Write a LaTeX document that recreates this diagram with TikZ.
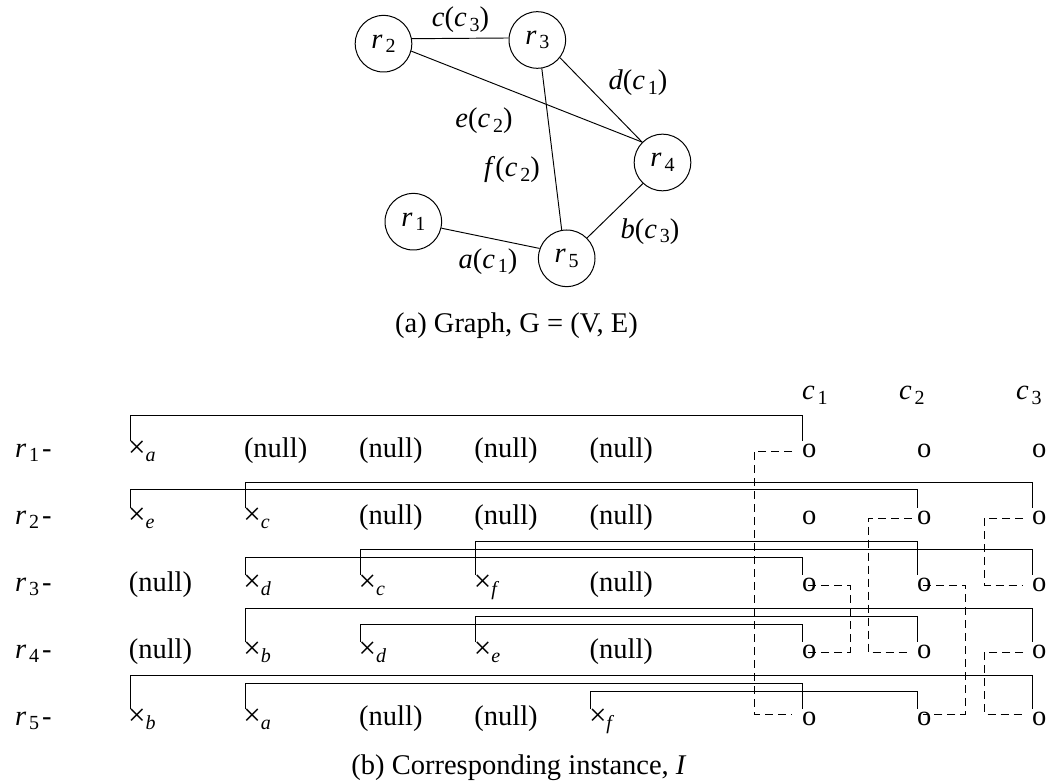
\documentclass[tikz,border=0pt]{standalone}
\usepackage{fontspec}
\setmainfont{Liberation Serif}[ItalicFont={Liberation Serif Italic}]
\newcommand{\sbn}[1]{\hspace{0.1em}\raisebox{-0.16em}{\fontsize{20}{20}\selectfont #1}}
\newcommand{\sbi}[1]{\raisebox{-0.17em}{\fontsize{20}{20}\selectfont\itshape #1}}
\newcommand{\xx}[1]{{\fontsize{31}{34}\selectfont ×}\sbi{#1}}
\newcommand{\conn}[3]{\draw[link] ([xshift=2pt,yshift=16pt]#1.base west) -- ++(0,-#3) -| ([yshift=16pt]#2.base west);}
\begin{document}
\begin{tikzpicture}[x=1pt,y=-1pt,
  every node/.style={font=\fontsize{28.5}{34}\selectfont, inner sep=0pt},
  txt/.style={anchor=base west},
  lbl/.style={anchor=base},
  vtx/.style={circle, draw, line width=1pt, minimum size=56.6pt},
  link/.style={line width=0.95pt},
  dlink/.style={line width=0.95pt, dash pattern=on 8pt off 5pt}]
\useasboundingbox (0,0) rectangle (1055,783);

% ---------- (a) graph ----------
\node[vtx] (g1) at (413.3,221.7) {\textit{r}\sbn{1}};
\node[vtx] (g2) at (383.5,43.7) {\textit{r}\sbn{2}};
\node[vtx] (g3) at (537.3,40) {\textit{r}\sbn{3}};
\node[vtx] (g4) at (662.5,162.5) {\textit{r}\sbn{4}};
\node[vtx] (g5) at (566.7,258.3) {\textit{r}\sbn{5}};

\draw[link] (g2.10) -- (g3.176);
\draw[link] (g2.-15) -- (g4.135);
\draw[link] (g3.-38) -- (g4.135);
\draw[link] (g3.-81) -- (g5.100);
\draw[link] (g4.227) -- (g5.45);
\draw[link] (g1.-13) -- (g5.160);

\node[lbl] (ec) at (460.5,26.7) {\textit{c}(\textit{c}\sbn{3})};
\node[lbl] (ed) at (638,90) {\textit{d}(\textit{c}\sbn{1})};
\node[lbl] (ee) at (484,127.7) {\textit{e}(\textit{c}\sbn{2})};
\node[lbl] (ef) at (512,176.7) {\textit{f}(\textit{c}\sbn{2})};
\node[lbl] (eb) at (650,238.3) {\textit{b}(\textit{c}\sbn{3})};
\node[lbl] (ea) at (488,268.3) {\textit{a}(\textit{c}\sbn{1})};

\node[lbl] (capA) at (516.5,333) {(a) Graph, G = (V, E)};

% ---------- (b) instance ----------
\node[txt] (h1) at (802,400) {\textit{c}\sbn{1}};
\node[txt] (h2) at (899,400) {\textit{c}\sbn{2}};
\node[txt] (h3) at (1016,400) {\textit{c}\sbn{3}};

% row labels
\node[txt] (L1) at (15,457) {\textit{r}\sbn{1}\hspace{3pt}-};
\node[txt] (L2) at (15,524) {\textit{r}\sbn{2}\hspace{3pt}-};
\node[txt] (L3) at (15,591) {\textit{r}\sbn{3}\hspace{3pt}-};
\node[txt] (L4) at (15,658) {\textit{r}\sbn{4}\hspace{3pt}-};
\node[txt] (L5) at (15,725) {\textit{r}\sbn{5}\hspace{3pt}-};

% row 1
\node[txt] (x1a) at (128,457) {\xx{a}};
\node[txt] (n12) at (243.8,457) {(null)};
\node[txt] (n13) at (359,457) {(null)};
\node[txt] (n14) at (474.2,457) {(null)};
\node[txt] (n15) at (589.4,457) {(null)};
% row 2
\node[txt] (x2e) at (128,524) {\xx{e}};
\node[txt] (x2c) at (243.2,524) {\xx{c}};
\node[txt] (n23) at (359,524) {(null)};
\node[txt] (n24) at (474.2,524) {(null)};
\node[txt] (n25) at (589.4,524) {(null)};
% row 3
\node[txt] (n31) at (128.6,591) {(null)};
\node[txt] (x3d) at (243.2,591) {\xx{d}};
\node[txt] (x3c) at (358.4,591) {\xx{c}};
\node[txt] (x3f) at (473.6,591) {\xx{f}};
\node[txt] (n35) at (589.4,591) {(null)};
% row 4
\node[txt] (n41) at (128.6,658) {(null)};
\node[txt] (x4b) at (243.2,658) {\xx{b}};
\node[txt] (x4d) at (358.4,658) {\xx{d}};
\node[txt] (x4e) at (473.6,658) {\xx{e}};
\node[txt] (n45) at (589.4,658) {(null)};
% row 5
\node[txt] (x5b) at (128,725) {\xx{b}};
\node[txt] (x5a) at (243.2,725) {\xx{a}};
\node[txt] (n53) at (359,725) {(null)};
\node[txt] (n54) at (474.2,725) {(null)};
\node[txt] (x5f) at (588.8,725) {\xx{f}};

% o columns
\node[txt] (o11) at (802,457) {o};
\node[txt] (o12) at (917,457) {o};
\node[txt] (o13) at (1032,457) {o};
\node[txt] (o21) at (802,524) {o};
\node[txt] (o22) at (917,524) {o};
\node[txt] (o23) at (1032,524) {o};
\node[txt] (o31) at (802,591) {o};
\node[txt] (o32) at (917,591) {o};
\node[txt] (o33) at (1032,591) {o};
\node[txt] (o41) at (802,658) {o};
\node[txt] (o42) at (917,658) {o};
\node[txt] (o43) at (1032,658) {o};
\node[txt] (o51) at (802,725) {o};
\node[txt] (o52) at (917,725) {o};
\node[txt] (o53) at (1032,725) {o};

% solid connectors
\conn{x1a}{o11}{26}
\conn{x2e}{o22}{18.5}
\conn{x2c}{o23}{26}
\conn{x3d}{o31}{18}
\conn{x3c}{o33}{25.7}
\conn{x3f}{o32}{33.3}
\conn{x4b}{o43}{33.3}
\conn{x4d}{o41}{18}
\conn{x4e}{o42}{25.7}
\conn{x5b}{o53}{33.3}
\conn{x5a}{o51}{25.7}
\conn{x5f}{o52}{18}

% dashed connectors
\draw[dlink] ([xshift=-10pt,yshift=6pt]o11.base west) -- ++(-38,0) |- ([xshift=-10pt,yshift=11pt]o51.base west);
\draw[dlink] ([xshift=6pt,yshift=6pt]o31.base west) -- ++(42,0) |- ([xshift=6pt,yshift=6pt]o41.base west);
\draw[dlink] ([xshift=-5.5pt,yshift=6pt]o22.base west) -- ++(-43.4,0) |- ([xshift=-5.5pt,yshift=6pt]o42.base west);
\draw[dlink] ([xshift=6pt,yshift=6pt]o32.base west) -- ++(42.7,0) |- ([xshift=6pt,yshift=11pt]o52.base west);
\draw[dlink] ([xshift=-9pt,yshift=6pt]o23.base west) -- ++(-38.7,0) |- ([xshift=-9pt,yshift=6pt]o33.base west);
\draw[dlink] ([xshift=-9pt,yshift=6pt]o43.base west) -- ++(-38.7,0) |- ([xshift=-9pt,yshift=11pt]o53.base west);

\node[lbl] (capB) at (519,774) {(b) Corresponding instance, \textit{I}};
\end{tikzpicture}
\end{document}
